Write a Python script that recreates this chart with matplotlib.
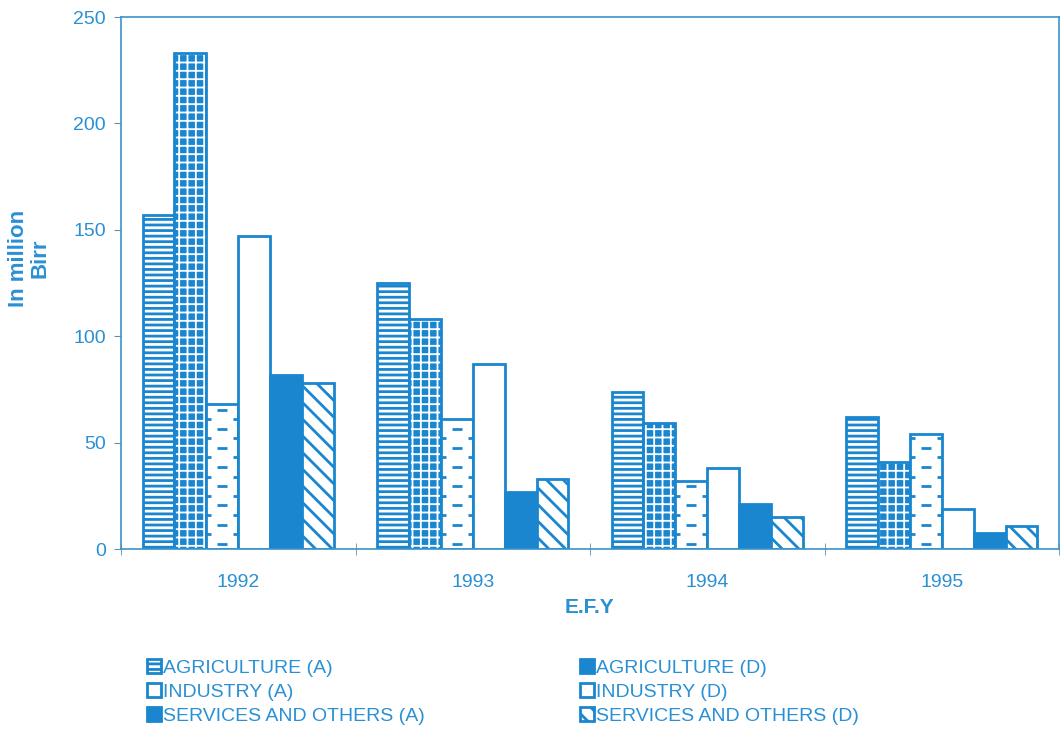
import matplotlib
matplotlib.use("Agg")
import matplotlib.pyplot as plt
from matplotlib.patches import Patch
import numpy as np

years = ["1992", "1993", "1994", "1995"]
agri_a = [157, 125, 74, 62]
agri_d = [233, 108, 59, 41]
ind_a = [68, 61, 32, 54]
ind_d = [147, 87, 38, 19]
serv_a = [82, 27, 21, 7.5]
serv_d = [78, 33, 15, 11]
labels = ["AGRICULTURE (A)", "AGRICULTURE (D)", "INDUSTRY (A)",
          "INDUSTRY (D)", "SERVICES AND OTHERS (A)", "SERVICES AND OTHERS (D)"]

BLUE = "#1a86cf"
TXT = "#2a90d4"
plt.rcParams["font.family"] = ["Liberation Sans", "DejaVu Sans"]
plt.rcParams["hatch.linewidth"] = 2.0

fig = plt.figure(figsize=(10.64, 7.33), dpi=100)
ax = fig.add_axes([121/1064, 1-549/733, (1059-121)/1064, (549-17)/733])

x = np.arange(len(years))
w = 0.136
offs = (np.arange(6) - 2.5) * w

# Agriculture (A): horizontal stripes
ax.bar(x + offs[0], agri_a, w, facecolor="white", edgecolor=BLUE, hatch="---", lw=2)
# Agriculture (D): blue with white grid
with plt.rc_context({"hatch.linewidth": 1.3}):
    ax.bar(x + offs[1], agri_d, w, facecolor=BLUE, edgecolor="white", hatch="++", lw=0)
ax.bar(x + offs[1], agri_d, w, facecolor="none", edgecolor=BLUE, lw=2)
# Industry (A): white with staggered dashes
bars_ia = ax.bar(x + offs[2], ind_a, w, facecolor="white", edgecolor=BLUE, lw=2)
for rect, v in zip(bars_ia, ind_a):
    ys = np.arange(2.5, v - 1.5, 4.5)
    cx = rect.get_x() + rect.get_width() / 2
    for i, yy in enumerate(ys):
        if i % 2 == 0:
            xs = [cx]
        else:
            xs = [rect.get_x(), rect.get_x() + rect.get_width()]
        ln, = ax.plot(xs, [yy] * len(xs), ls="none", marker="_", ms=7, mew=2, color=BLUE)
        ln.set_clip_path(rect)
# Industry (D): plain white
ax.bar(x + offs[3], ind_d, w, facecolor="white", edgecolor=BLUE, lw=2)
# Services (A): solid blue
ax.bar(x + offs[4], serv_a, w, facecolor=BLUE, edgecolor=BLUE, lw=2)
# Services (D): diagonal
ax.bar(x + offs[5], serv_d, w, facecolor="white", edgecolor=BLUE, hatch="\\\\", lw=2)

ax.set_xlim(-0.5, 3.5)
ax.set_ylim(0, 250)
ax.set_yticks([0, 50, 100, 150, 200, 250])
ax.set_xticks(x)
ax.set_xticklabels(years)
ax.set_xticks(np.arange(-0.5, 4.0, 1.0), minor=True)
ax.tick_params(axis="x", which="major", length=0, pad=18, labelsize=14, labelcolor=TXT)
ax.tick_params(axis="x", which="minor", length=8, direction="inout", color="#6a8fa8")
ax.tick_params(axis="y", length=5, color="#6a8fa8", labelsize=14, labelcolor=TXT, pad=6)
for s in ax.spines.values():
    s.set_color("#3a94c8")
    s.set_linewidth(1.2)

ax.set_xlabel("E.F.Y", fontsize=15, fontweight="bold", color=TXT, labelpad=5)
fig.text(29/1064, 1-258/733, "In million\nBirr", rotation=90, ha="center", va="center",
         fontsize=16, fontweight="bold", color=TXT, multialignment="center",
         linespacing=1.05)

h = [
    Patch(facecolor="white", edgecolor=BLUE, hatch="---", lw=2),
    Patch(facecolor=BLUE, edgecolor=BLUE, lw=2),
    Patch(facecolor="white", edgecolor=BLUE, lw=2),
    Patch(facecolor="white", edgecolor=BLUE, lw=2),
    Patch(facecolor=BLUE, edgecolor=BLUE, lw=2),
    Patch(facecolor="white", edgecolor=BLUE, hatch="\\\\", lw=2),
]
for col, xpos in ((0, 147), (1, 580)):
    idx = [col, col + 2, col + 4]
    leg = fig.legend([h[i] for i in idx], [labels[i] for i in idx], loc="upper left",
                     bbox_to_anchor=(xpos/1064, 1-659/733), frameon=False,
                     handlelength=0.7, handleheight=0.7, handletextpad=0.1,
                     labelspacing=0.33, fontsize=14, borderaxespad=0, borderpad=0)
    for t in leg.get_texts():
        t.set_color(TXT)

fig.savefig("out.png", dpi=100)
